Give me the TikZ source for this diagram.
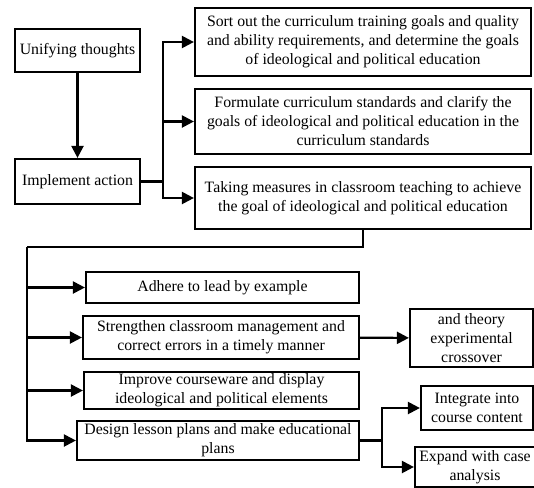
\documentclass[tikz,border=0pt]{standalone}
\usepackage{fontspec}
\setmainfont{Liberation Serif}
\usetikzlibrary{arrows.meta}

\begin{document}
\begin{tikzpicture}[x=1pt,y=-1pt]
\tikzstyle{every node}=[font=\fontsize{15.8}{19}\selectfont]
\tikzstyle{box}=[draw,line width=2.2pt,align=center,inner sep=0pt]
\tikzstyle{link}=[line width=2.2pt]
\tikzstyle{arr}=[link,-{Triangle[length=12pt,width=12pt]}]
\useasboundingbox (0,0) rectangle (534,487);

\node[box,minimum width=125,minimum height=43] (ut) at (77.5,50.5) {Unifying thoughts};
\node[box,minimum width=125,minimum height=45] (ia) at (77.5,181.5) {Implement action};
\node[box,minimum width=336,minimum height=68] (g1) at (363,42) {Sort out the curriculum training goals and quality\\and ability requirements, and determine the goals\\of ideological and political education};
\node[box,minimum width=336,minimum height=65] (g2) at (363,121.5) {Formulate curriculum standards and clarify the\\goals of ideological and political education in the\\curriculum standards};
\node[box,minimum width=336,minimum height=62] (g3) at (363,198) {Taking measures in classroom teaching to achieve\\the goal of ideological and political education};
\node[box,minimum width=273,minimum height=31] (m1) at (222.5,287.5) {Adhere to lead by example};
\node[box,minimum width=276,minimum height=43] (m2) at (221,337.5) {Strengthen classroom management and\\correct errors in a timely manner};
\node[box,minimum width=275,minimum height=37] (m3) at (221.5,390.5) {Improve courseware and display\\ideological and political elements};
\node[box,minimum width=282,minimum height=39] (m4) at (218,440.5) {Design lesson plans and make educational\\plans};
\node[box,minimum width=123,minimum height=58] (c1) at (471.5,338) {and theory\\experimental\\crossover};
\node[box,minimum width=112,minimum height=44] (d1) at (477,408) {Integrate into\\course content};
\node[box,minimum width=120,minimum height=40] (d2) at (475,467) {Expand with case\\analysis};

\coordinate (tb) at (163,181.5);
\coordinate (lb) at (27,247);
\coordinate (rb) at (382,440.5);

\draw[arr] (ut) -- (ia);
\draw[link] (ia) -- (tb);
\foreach \g in {g1,g2,g3}
  \draw[arr] (tb) |- (\g);
\draw[link] (g3.south) |- (lb);
\foreach \m in {m1,m2,m3,m4}
  \draw[arr] (lb) |- (\m);
\draw[arr] (m2) -- (c1);
\draw[link] (m4) -- (rb);
\draw[arr] (rb) |- (d1);
\draw[arr] (rb) |- (d2);
\end{tikzpicture}
\end{document}
